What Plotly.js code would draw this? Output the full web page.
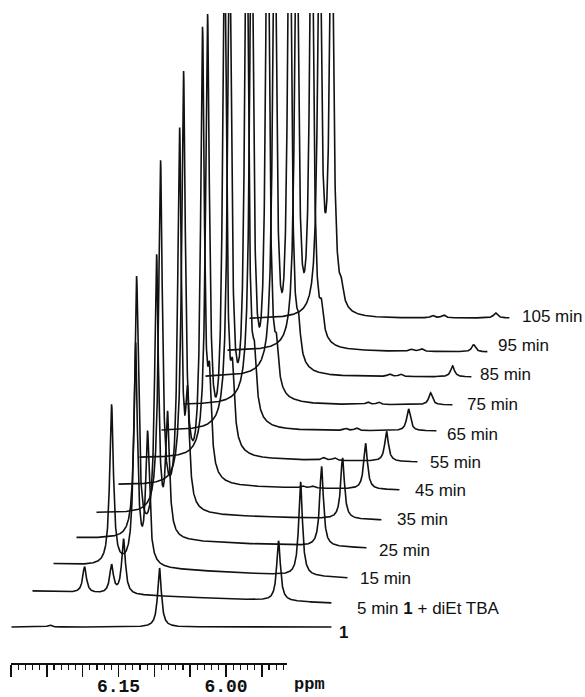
<!DOCTYPE html>
<html><head><meta charset="utf-8">
<script src="https://cdn.plot.ly/plotly-3.0.1.min.js"></script>
<style>html,body{margin:0;padding:0;background:#fff}#chart{width:585px;height:697px}</style>
</head><body><div id="chart"></div>
<script>
// Stacked 1H NMR spectra (display ppm on the ruler frame, intensity in arbitrary units)
const spectrumLabels = ['<b>1</b>', '5 min <b>1</b> + diEt TBA', '15 min', '25 min', '35 min', '45 min',
  '55 min', '65 min', '75 min', '85 min', '95 min', '105 min'];
const startPpm = [6.2993, 6.2700, 6.2407, 6.2086, 6.1807, 6.1500, 6.1207, 6.0900, 6.0593, 6.0286, 5.9979, 5.9672];
const endPpm   = [5.8528, 5.8528, 5.8304, 5.8039, 5.7830, 5.7579, 5.7328, 5.7063, 5.6839, 5.6574, 5.6351, 5.6044];
const baseStart = [36, 72, 99, 125, 150, 178, 205, 232, 258, 286, 312, 344];
const baseEnd   = [36, 60, 85, 115, 143, 173, 201, 232, 258, 286, 311, 345];
const peakPpm = [
  [6.2462, 6.0928],
  [6.1974, 6.1597, 6.1430, 5.9267],
  [6.1597, 6.1262, 6.1095, 5.8960],
  [6.1248, 6.0969, 6.0816, 5.8667],
  [6.0914, 6.0648, 6.0537, 5.8374],
  [6.0593, 6.0328, 6.0230, 5.8053, 5.8932, 5.8793],
  [6.0258, 6.0021, 5.9909, 5.7760, 5.8639, 5.8486],
  [5.9951, 5.9714, 5.9602, 5.7453, 5.8332, 5.8179],
  [5.9644, 5.9421, 5.9295, 5.7146, 5.8025, 5.7872],
  [5.9323, 5.9114, 5.8988, 5.6839, 5.7718, 5.7565],
  [5.9016, 5.8807, 5.8667, 5.6546, 5.7411, 5.7272],
  [5.8695, 5.8528, 5.8388, 5.6239, 5.7118, 5.6965]
];
const peakHeight = [
  [2, 59],
  [26, 28, 55, 60],
  [160, 220, 130, 94],
  [260, 279, 118, 80],
  [349, 376, 100, 61],
  [409, 447, 80, 46, 2, 2],
  [436, 520, 60, 30, 2.5, 2.5],
  [500, 560, 45, 22, 2, 2.5],
  [520, 560, 35, 12, 2.5, 2.5],
  [500, 540, 30, 11, 2.5, 2.5],
  [470, 500, 25, 7, 2, 2.5],
  [420, 450, 15, 5, 2.5, 3]
];
const halfWidth = 0.0031; // ppm, Lorentzian half width
const labelGapPx = [5, 23, 10, 10, 13, 13, 10, 8, 12, 6, 8, 10];
const labelShiftPx = [-5, -5, 0, -2, 1, 0, 0, -3, 1, 3, 7, 2];
const rulerTicks = [6.30, 6.25, 6.20, 6.15, 6.10, 6.05, 6.00, 5.95];
const rulerText = ['', '', '', '6.15', '', '', '6.00', ''];

const PX_PER_PPM = 716.7;
const LEFT_PPM = 6.30;
const ML = 11, MR = 0, MT = 13, MB = 34, W = 585, H = 697;
const plotW = W - ML - MR;
const plotH = H - MT - MB;
const rightPpm = LEFT_PPM - plotW / PX_PER_PPM;
const rulerEnd = 5.915;

const traces = [];
const annotations = [];
for (let i = 0; i < spectrumLabels.length; i++) {
  const xs = [], ys = [];
  const a = startPpm[i], b = endPpm[i];
  const step = 0.0002;
  for (let x = a; x >= b; x -= step) {
    const t = (a - x) / (a - b);
    let y = baseStart[i] + (baseEnd[i] - baseStart[i]) * t;
    const pp = peakPpm[i], ph = peakHeight[i];
    for (let k = 0; k < pp.length; k++) {
      const d = (x - pp[k]) / halfWidth;
      y += ph[k] / (1 + d * d);
    }
    xs.push(x); ys.push(y);
  }
  traces.push({x: xs, y: ys, type: 'scatter', mode: 'lines',
    line: {color: '#111', width: 1.6}, hoverinfo: 'skip', showlegend: false});
  annotations.push({x: b - labelGapPx[i] / PX_PER_PPM, y: baseEnd[i], xref: 'x', yref: 'y',
    text: spectrumLabels[i], showarrow: false, xanchor: 'left', yanchor: 'middle',
    yshift: labelShiftPx[i],
    font: {family: 'Liberation Sans, Arial, sans-serif', size: 17, color: '#111'}});
}
// invisible carrier so the ppm ruler axis is drawn
traces.push({x: rulerTicks, y: rulerTicks.map(() => 0), xaxis: 'x2', yaxis: 'y', type: 'scatter',
  mode: 'markers', marker: {opacity: 0}, hoverinfo: 'skip', showlegend: false});

annotations.push({x: rulerEnd - 6 / PX_PER_PPM, y: -21 / plotH, xref: 'x', yref: 'paper', text: '<b>ppm</b>',
  showarrow: false, xanchor: 'left', yanchor: 'middle', borderpad: 0,
  font: {family: 'Liberation Mono, monospace', size: 17, color: '#111'}});

const layout = {
  width: W, height: H,
  margin: {l: ML, r: MR, t: MT, b: MB, pad: 0},
  paper_bgcolor: '#fff', plot_bgcolor: 'rgba(0,0,0,0)',
  showlegend: false,
  xaxis: {range: [LEFT_PPM, rightPpm], visible: false, fixedrange: true},
  yaxis: {range: [0, plotH], visible: false, fixedrange: true},
  xaxis2: {
    domain: [0, (LEFT_PPM - rulerEnd) * PX_PER_PPM / plotW],
    range: [LEFT_PPM, rulerEnd], anchor: 'y', side: 'bottom',
    showline: true, linecolor: '#111', linewidth: 1.5, showgrid: false, zeroline: false,
    tickmode: 'array', tickvals: rulerTicks, ticktext: rulerText.map(t => t ? '<b>' + t + '</b>' : ''),
    ticks: 'outside', ticklen: 12, tickwidth: 1.5, tickcolor: '#111',
    ticklabelstandoff: -6,
    minor: {dtick: 0.01, tick0: 6.0, ticks: 'outside', ticklen: 5, tickwidth: 1.2, tickcolor: '#111', showgrid: false},
    tickfont: {family: 'Liberation Mono, monospace', size: 18, color: '#111'}
  },
  annotations: annotations
};
Plotly.newPlot('chart', traces, layout, {staticPlot: true});
</script></body></html>
